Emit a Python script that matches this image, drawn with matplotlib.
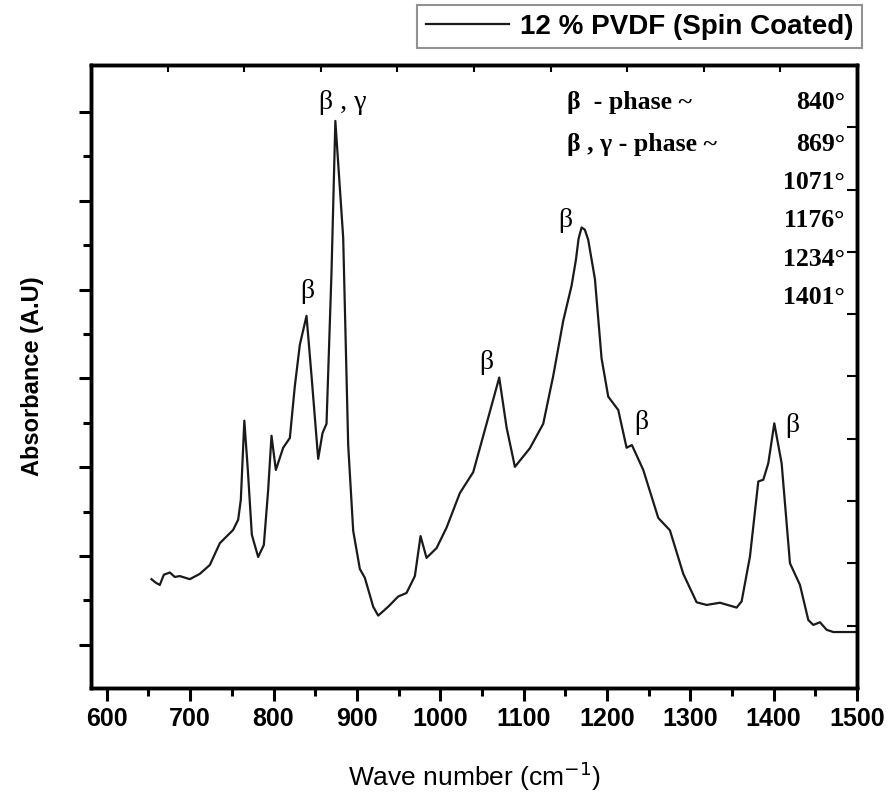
import matplotlib
matplotlib.use("Agg")
import matplotlib.pyplot as plt
import numpy as np

# spectrum (wave number in cm-1, absorbance in arbitrary units)
wave_number = [653.6, 658.8, 663.6, 668.4, 675.6, 681.6, 687.6, 699.6, 711.6, 723.6,
               735.6, 751.6, 757.6, 760.8, 765.0, 769.2, 774.0, 781.6, 788.4, 793.6,
               797.6, 802.8, 811.6, 819.6, 825.6, 831.6, 839.6, 845.6, 853.6, 858.8,
               863.6, 869.6, 874.2, 883.6, 889.6, 895.6, 903.6, 909.6, 919.6, 925.6,
               937.6, 949.6, 959.6, 969.6, 976.4, 983.6, 995.6, 1007.6, 1023.6, 1039.6,
               1055.6, 1070.8, 1079.6, 1089.6, 1107.6, 1123.6, 1135.6, 1147.6, 1157.6, 1162.8,
               1166.0, 1169.6, 1173.5, 1177.6, 1185.6, 1193.6, 1201.6, 1213.6, 1223.6, 1230.0,
               1243.6, 1261.6, 1275.6, 1291.6, 1307.6, 1319.6, 1335.6, 1355.6, 1361.6, 1371.6,
               1381.6, 1387.6, 1393.6, 1400.8, 1409.6, 1419.6, 1431.6, 1441.6, 1447.6, 1455.6,
               1463.6, 1471.6, 1499.6]
absorbance = [0.148, 0.140, 0.135, 0.158, 0.163, 0.153, 0.155, 0.148, 0.160, 0.180,
              0.229, 0.259, 0.282, 0.327, 0.505, 0.394, 0.248, 0.198, 0.225, 0.349,
              0.471, 0.394, 0.444, 0.466, 0.583, 0.676, 0.741, 0.606, 0.419, 0.477,
              0.498, 0.840, 1.180, 0.917, 0.450, 0.257, 0.171, 0.151, 0.086, 0.066,
              0.086, 0.109, 0.117, 0.155, 0.245, 0.196, 0.218, 0.264, 0.342, 0.389,
              0.498, 0.602, 0.490, 0.401, 0.443, 0.498, 0.606, 0.730, 0.809, 0.867,
              0.915, 0.940, 0.935, 0.912, 0.824, 0.645, 0.559, 0.529, 0.444, 0.450,
              0.394, 0.286, 0.258, 0.160, 0.096, 0.090, 0.095, 0.084, 0.098, 0.199,
              0.368, 0.372, 0.409, 0.499, 0.409, 0.184, 0.135, 0.056, 0.045, 0.051,
              0.034, 0.029, 0.029]

# peak labels on the curve
peak_labels = ["β , γ", "β", "β", "β", "β", "β"]
peak_x = [883, 840, 1055, 1150, 1241, 1422]
peak_y = [1.221, 0.795, 0.635, 0.955, 0.50, 0.493]

# assignment table in the top right corner
fase_labels = ["β  - phase ~", "β , γ - phase ~"]
bandas = ["840°", "869°", "1071°", "1176°", "1234°", "1401°"]

sans = ["Liberation Sans", "DejaVu Sans"]
sans_narrow = ["Liberation Sans Narrow", "Liberation Sans", "DejaVu Sans"]
serif = ["Liberation Serif", "DejaVu Serif"]

fig = plt.figure(figsize=(8.9, 8.01), dpi=100)
ax = fig.add_axes([0.1022, 0.1411, 0.8607, 0.7778])

ax.plot(wave_number, absorbance, color="#1a1a1a", lw=1.6,
        label="12 % PVDF (Spin Coated)")

ax.set_xlim(581, 1500)
ax.set_ylim(-0.097, 1.306)
ax.set_xticks(np.arange(600, 1501, 100))
ax.set_xticks(np.arange(650, 1500, 100), minor=True)
ax.set_yticks(np.arange(0, 1.21, 0.2))
ax.set_yticks(np.arange(0.1, 1.2, 0.2), minor=True)
ax.set_yticklabels([])
ax.tick_params(which="major", direction="out", length=9, width=2.2, pad=5)
ax.tick_params(which="minor", direction="out", length=6, width=2.2)
for lbl in ax.get_xticklabels():
    lbl.set_family(sans_narrow)
    lbl.set_fontweight("bold")
    lbl.set_fontsize(18)

# secondary axes only for the inner ticks on top and right
ax_top = ax.twiny()
ax_top.set_xlim(0, 1)
ax_top.set_xticks(np.arange(0.1, 0.95, 0.1))
ax_top.tick_params(direction="in", length=5, width=1.5, labeltop=False)
ax_right = ax.twinx()
ax_right.set_ylim(0, 1)
ax_right.set_yticks(np.arange(0.1, 0.95, 0.1))
ax_right.tick_params(direction="in", length=7, width=1.5, labelright=False)

for a in (ax, ax_top, ax_right):
    for s in a.spines.values():
        s.set_linewidth(2.4)

ax.set_xlabel("Wave number (cm$^{-1}$)", family=sans, fontsize=19, labelpad=20)
ax.set_ylabel("Absorbance (A.U)", family=sans, fontweight="bold", fontsize=17, labelpad=20)

for txt, x, y in zip(peak_labels, peak_x, peak_y):
    ax.text(x, y, txt, family=serif, fontsize=20, ha="center", va="center")

linhas_y = [0.939, 0.872, 0.811, 0.751, 0.687, 0.626]
for txt, y in zip(fase_labels, linhas_y):
    ax.text(0.621, y, txt, transform=ax.transAxes, family=serif, fontweight="bold",
            fontsize=18.5, ha="left", va="center")
for txt, y in zip(bandas, linhas_y):
    ax.text(0.984, y, txt, transform=ax.transAxes, family=serif, fontweight="bold",
            fontsize=18.5, ha="right", va="center")

leg = ax.legend(loc="lower right", bbox_to_anchor=(1.0065, 1.027), borderaxespad=0,
                frameon=True, fancybox=False, edgecolor="#777777", handlelength=3.0,
                handletextpad=0.4, borderpad=0.3,
                prop={"family": sans, "weight": "bold", "size": 20})
leg.get_frame().set_linewidth(1.5)

fig.savefig("out.png", dpi=100)
